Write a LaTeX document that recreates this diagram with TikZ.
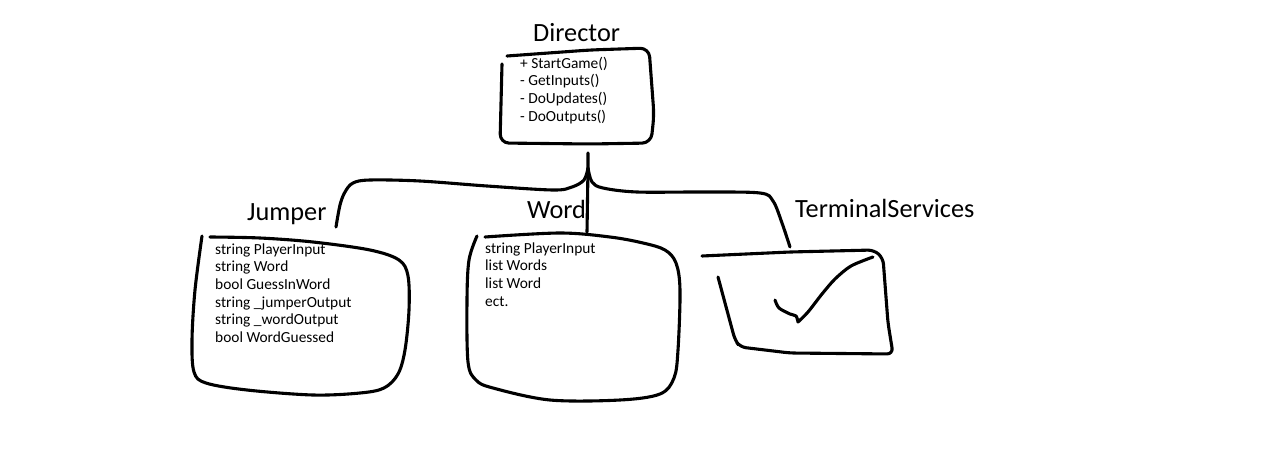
\documentclass[tikz,border=0pt]{standalone}
\usepackage{fontspec}
\setmainfont{Carlito}
\usepackage{tikz}
\tikzset{
  sketch/.style={line width=3.1pt, line cap=round, line join=round},
  classname/.style={font=\fontsize{26.3}{30}\selectfont, anchor=base west, inner sep=0pt},
  member/.style={font=\fontsize{15.4}{18}\selectfont, anchor=base west, inner sep=0pt},
}
\begin{document}
\begin{tikzpicture}[x=1pt, y=-1pt]
                    \useasboundingbox (0,0) rectangle (1266,460);
                    \node[classname] (director) at (533,42) {Director};
                    \node[classname] (jumper) at (247,220) {Jumper};
                    \node[classname] (word) at (527,218) {Word};
                    \node[classname] (terminal) at (795,217) {TerminalServices};
                    \draw[sketch, rounded corners=9pt] (507,56) -- (590,50) -- (649,48) -- (654,115) -- (651,143) -- (590,144) -- (500,143) -- (502,64);
                    \draw[sketch] plot[smooth, tension=0.55] coordinates {(210,237) (260,238) (313,242) (370,250) (399,260) (408,276) (409,310) (405,350) (398,374) (384,388) (360,393) (313,395) (247,390) (206,383) (194,372) (192,340) (195,290) (202,236)};
                    \draw[sketch] plot[smooth, tension=0.55] coordinates {(485,237) (560,233) (610,237) (643,243) (665,250) (676,263) (680,290) (678,350) (674,378) (660,394) (620,400) (550,400) (493,388) (476,380) (468,362) (467,300) (469,260) (477,236)};
                    \draw[sketch, rounded corners=6pt] (702,256) -- (790,252) -- (874,250) -- (883,258) -- (888,323) -- (893,354) -- (790,353) -- (740,347) -- (735,340) -- (718,277);
                    \draw[sketch] plot[smooth] coordinates {(775,300) (779,308) (790,314) (796,316) (798,322)} -- plot[smooth] coordinates {(798,322) (808,312) (822,294) (835,279) (851,266) (873,257)};
                    \foreach \txt [count=\i from 0] in {+ StartGame(), - GetInputs(), - DoUpdates(), - DoOutputs()}
                      \node[member] (director-\i) at (520,68+17.7*\i) {\txt};
                    \foreach \txt [count=\i from 0] in {string PlayerInput, string Word, bool GuessInWord, string \_jumperOutput, string \_wordOutput, bool WordGuessed}
                      \node[member] (jumper-\i) at (215,254+17.7*\i) {\txt};
                    \foreach \txt [count=\i from 0] in {string PlayerInput, list Words, list Word, ect.}
                      \node[member] (word-\i) at (485,253+17.7*\i) {\txt};
                    \coordinate (director-south) at (588,153);
                    \coordinate (junction) at (588,168);
                    \coordinate (word-north) at (587,232);
                    \coordinate (jumper-north) at (336,227);
                    \coordinate (terminal-north) at (790,247);
                    \draw[sketch] (director-south) -- (junction) -- (word-north);
                    \draw[sketch] plot[smooth, tension=0.55] coordinates {(junction) (584,180) (572,187) (553,190) (487,186) (420,181) (370,180) (353,183) (345,192) (340,205) (jumper-north)};
                    \draw[sketch] plot[smooth, tension=0.55] coordinates {(junction) (592,182) (603,188) (637,192) (703,192) (760,193) (773,201) (782,223) (terminal-north)};
                \end{tikzpicture}
\end{document}
